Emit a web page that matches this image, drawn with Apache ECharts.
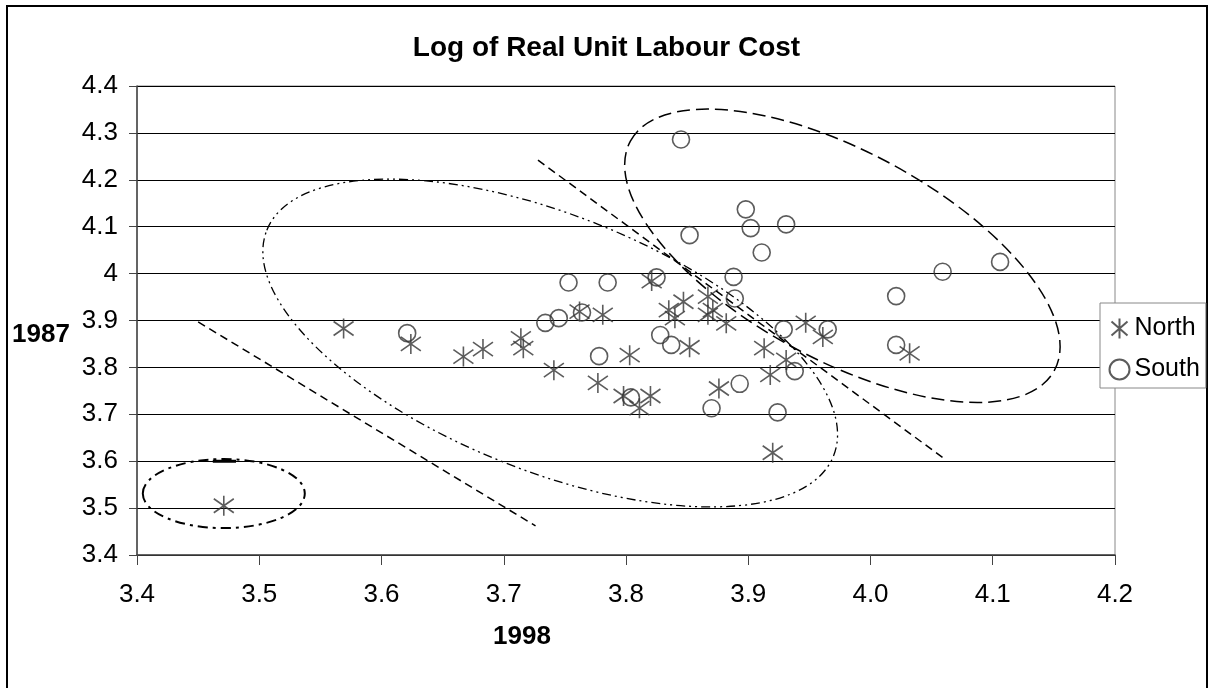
<!DOCTYPE html>
<html>
<head>
<meta charset="utf-8">
<title>Log of Real Unit Labour Cost</title>
<script src="https://cdn.jsdelivr.net/npm/echarts@6/dist/echarts.min.js"></script>
<style>
  html, body { margin: 0; padding: 0; background: #fff; }
  #chart { width: 1213px; height: 688px; }
</style>
</head>
<body>
<div id="chart"></div>
<script>
// [1998, 1987]
const north = [
  [3.471, 3.505], [3.569, 3.883], [3.624, 3.850], [3.667, 3.823], [3.683, 3.839],
  [3.714, 3.862], [3.716, 3.841], [3.741, 3.794], [3.762, 3.919], [3.781, 3.912],
  [3.777, 3.767], [3.803, 3.826], [3.798, 3.739], [3.811, 3.713], [3.820, 3.739],
  [3.821, 3.984], [3.835, 3.922], [3.840, 3.905], [3.847, 3.940], [3.852, 3.843],
  [3.867, 3.951], [3.867, 3.912], [3.871, 3.922], [3.882, 3.894], [3.876, 3.755],
  [3.913, 3.841], [3.918, 3.784], [3.920, 3.618], [3.931, 3.816], [3.947, 3.895],
  [3.961, 3.865], [4.032, 3.830]
]
const south = [
  [3.621, 3.873], [3.734, 3.895], [3.745, 3.905], [3.753, 3.981], [3.764, 3.917],
  [3.785, 3.981], [3.778, 3.824], [3.804, 3.736], [3.825, 3.992], [3.845, 4.286],
  [3.852, 4.082], [3.828, 3.869], [3.837, 3.848], [3.870, 3.713], [3.888, 3.993],
  [3.889, 3.947], [3.893, 3.765], [3.898, 4.137], [3.902, 4.097], [3.911, 4.045],
  [3.931, 4.105], [3.929, 3.881], [3.924, 3.704], [3.938, 3.792], [3.965, 3.881],
  [4.021, 3.952], [4.021, 3.848], [4.059, 4.004], [4.106, 4.025]
]
const axisMin = 3.4
const axisMax = 4.4
const xAxisMax = 4.2
const step = 0.1

// hand drawn guide lines (end points in data units)
const guideA = [[3.450, 3.897], [3.726, 3.462]]
const guideB = [[3.728, 4.242], [4.060, 3.606]]
const capMark = [[3.462, 3.600], [3.481, 3.600]]

// ellipses: centre in data units
const ellipseCentres = [[3.471, 3.531], [3.738, 3.852], [3.977, 4.038]]

const asterisk = 'path://M10 0L10 20M2 3L18 17M2 17L18 3'
const ink = '#333'
const font = 'Liberation Sans, Arial, sans-serif'

const chart = echarts.init(document.getElementById('chart'))

chart.setOption({
  animation: false,
  backgroundColor: '#fff',
  textStyle: { fontFamily: font },
  title: {
    text: 'Log of Real Unit Labour Cost',
    left: 'center',
    top: 29,
    textStyle: { fontSize: 28, fontWeight: 'bold', color: '#000' }
  },
  legend: {
    orient: 'vertical',
    left: 1100,
    top: 303,
    padding: [13, 6, 6, 7],
    itemWidth: 20,
    itemHeight: 20,
    itemGap: 16,
    borderColor: '#888',
    borderWidth: 1,
    backgroundColor: '#fff',
    textStyle: { fontSize: 25, color: '#000' },
    data: [
      { name: 'North', icon: asterisk },
      { name: 'South', icon: 'circle' }
    ]
  },
  grid: {
    left: 137,
    right: 98,
    top: 86,
    bottom: 133,
    show: true,
    borderColor: '#888',
    borderWidth: 1
  },
  xAxis: {
    type: 'value',
    min: axisMin,
    max: xAxisMax,
    interval: step,
    axisLine: { lineStyle: { color: '#444', width: 1.5 } },
    axisTick: { inside: false, length: 10, lineStyle: { color: '#444' } },
    axisLabel: {
      margin: 27,
      fontSize: 26,
      color: '#000',
      formatter: v => v.toFixed(1)
    },
    splitLine: { show: false }
  },
  yAxis: {
    type: 'value',
    min: axisMin,
    max: axisMax,
    interval: step,
    axisLine: { show: true, lineStyle: { color: '#444', width: 1.5 } },
    axisTick: { show: true, length: 8, lineStyle: { color: '#444' } },
    axisLabel: {
      margin: 19,
      fontSize: 26,
      color: '#000',
      formatter: v => String(+v.toFixed(1))
    },
    splitLine: { lineStyle: { color: '#000', width: 1 } }
  },
  series: [
    {
      name: 'guideA',
      type: 'line',
      data: guideA,
      symbol: 'none',
      silent: true,
      lineStyle: { color: '#000', width: 1.5, type: [8, 5] }
    },
    {
      name: 'guideB',
      type: 'line',
      data: guideB,
      symbol: 'none',
      silent: true,
      lineStyle: { color: '#000', width: 1.5, type: [8, 5] }
    },
    {
      name: 'cap',
      type: 'line',
      data: capMark,
      symbol: 'none',
      silent: true,
      lineStyle: { color: '#000', width: 3 }
    },
    {
      name: 'North',
      type: 'scatter',
      data: north,
      symbol: asterisk,
      symbolSize: 20,
      itemStyle: { color: 'none', borderColor: ink, borderWidth: 1.6 }
    },
    {
      name: 'South',
      type: 'scatter',
      data: south,
      symbol: 'circle',
      symbolSize: 17,
      itemStyle: { color: 'none', borderColor: ink, borderWidth: 1.6 }
    }
  ]
})

// ellipses and axis titles placed from the grid's own scales
const px = p => chart.convertToPixel({ gridIndex: 0 }, p)
const c = ellipseCentres.map(px)
const ellipseStyle = (dash, w) => ({ stroke: '#000', fill: 'none', lineWidth: w, lineDash: dash })

chart.setOption({
  graphic: [
    {
      type: 'rect',
      shape: { x: 7, y: 6, width: 1200, height: 700 },
      style: { stroke: '#000', fill: 'none', lineWidth: 2 },
      silent: true
    },
    {
      type: 'ellipse',
      x: c[0][0], y: c[0][1],
      shape: { cx: 0, cy: 0, rx: 81, ry: 34.5 },
      style: ellipseStyle([10, 5, 3, 5], 2),
      silent: true
    },
    {
      type: 'ellipse',
      x: c[1][0], y: c[1][1],
      rotation: -21.7 * Math.PI / 180,
      shape: { cx: 0, cy: 0, rx: 305, ry: 128 },
      style: ellipseStyle([9, 4, 2, 4, 2, 4], 1.3),
      silent: true
    },
    {
      type: 'ellipse',
      x: c[2][0], y: c[2][1],
      rotation: -28.4 * Math.PI / 180,
      shape: { cx: 0, cy: 0, rx: 241, ry: 104 },
      style: ellipseStyle([13, 6], 1.5),
      silent: true
    },
    {
      type: 'text',
      left: 12,
      top: 322,
      style: { text: '1987', fontSize: 26, fontWeight: 'bold', fill: '#000', fontFamily: font }
    },
    {
      type: 'text',
      left: 493,
      top: 624,
      style: { text: '1998', fontSize: 26, fontWeight: 'bold', fill: '#000', fontFamily: font }
    }
  ]
})
</script>
</body>
</html>
